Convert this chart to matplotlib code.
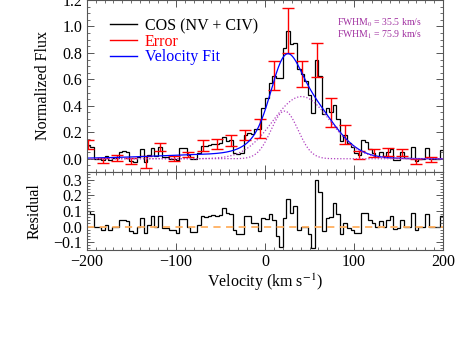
import matplotlib
matplotlib.use("Agg")
import matplotlib.pyplot as plt
from matplotlib.ticker import MultipleLocator
from matplotlib.lines import Line2D
import numpy as np

plt.rcParams["font.family"] = ["Liberation Serif", "DejaVu Serif"]
plt.rcParams["mathtext.fontset"] = "stix"

# velocity bins (4 km/s) and residuals
bin_width = 4.0
edges = np.arange(-200, 200 + bin_width, bin_width)
centers = 0.5 * (edges[:-1] + edges[1:])
resid = [
    0.10, 0.08, -0.005, -0.005, -0.02, 0.01, -0.02, -0.005, -0.005, 0.04,
    0.045, 0.035, -0.03, -0.04, 0.0, 0.055, -0.04, 0.01, 0.065, 0.0,
    0.065, -0.01, -0.01, -0.025, -0.025, -0.04, 0.05, 0.05, 0.0, -0.035,
    -0.035, 0.01, 0.065, 0.06, 0.065, 0.075, 0.07, 0.075, 0.12, 0.085,
    0.08, -0.02, -0.045, -0.05, 0.07, 0.065, 0.02, 0.02, -0.03, 0.055,
    0.05, 0.08, 0.04, -0.06, -0.13, 0.055, 0.175, 0.09, 0.13, -0.02,
    0.0, 0.0, -0.05, -0.14, 0.30, 0.22, -0.03, 0.055, 0.06, 0.15,
    0.08, -0.05, 0.025, -0.01, -0.02, -0.04, -0.04, 0.09, 0.085, 0.04,
    0.02, 0.0, 0.035, 0.0, 0.045, 0.065, -0.015, -0.01, 0.045, 0.0,
    0.0, 0.09, -0.02, -0.005, 0.0, 0.08, -0.005, -0.005, 0.0, 0.065,
]

# error bars every 4th bin
err_idx = list(range(0, 100, 4))
err_size = [
    0.035, 0.02, 0.02, 0.02, 0.045, 0.03, 0.02, 0.02, 0.04, 0.035,
    0.04, 0.04, 0.075, 0.11, 0.17, 0.10, 0.13, 0.11, 0.07, 0.03,
    0.03, 0.03, 0.025, 0.02, 0.02,
]

# gaussian components of the velocity fit
comp_amp = [0.36, 0.47]
comp_cen = [22.0, 41.0]
comp_fwhm = [35.5, 75.9]
cont_amp, cont_cen, cont_sig = 0.035, -40.0, 80.0


def gauss(v, a, c, fwhm):
    s = fwhm / (2 * np.sqrt(2 * np.log(2)))
    return a * np.exp(-0.5 * ((v - c) / s) ** 2)


vfine = np.linspace(-200, 200, 801)
comps = [gauss(vfine, a, c, w) for a, c, w in zip(comp_amp, comp_cen, comp_fwhm)]
cont = cont_amp * np.exp(-0.5 * ((vfine - cont_cen) / cont_sig) ** 2)
fit_fine = comps[0] + comps[1] + cont

fit_bins = np.interp(centers, vfine, fit_fine)
flux = fit_bins + np.array(resid)

fig = plt.figure(figsize=(4.7, 3.46), dpi=100)
ax1 = fig.add_axes([0.1845, 0.503, 0.7585, 0.497])
ax2 = fig.add_axes([0.1845, 0.2775, 0.7585, 0.2255])

# top panel
ax1.stairs(flux, edges, baseline=None, color="k", lw=0.9)
ax1.errorbar(centers[err_idx], flux[err_idx], yerr=err_size, fmt="none",
             ecolor="red", elinewidth=1.0, capsize=4.0, capthick=1.0)
ax1.plot(vfine, fit_fine, color="blue", lw=0.9)
for c in comps:
    ax1.plot(vfine, c, color="#b040c0", lw=0.9, ls=(0, (1, 1.5)))

handles = [Line2D([], [], color="k", lw=1.0),
           Line2D([], [], color="red", lw=1.0),
           Line2D([], [], color="blue", lw=1.0)]
labels = ["COS (NV + CIV)", "Error", "Velocity Fit"]
leg = ax1.legend(handles, labels, loc="upper left", bbox_to_anchor=(0.065, 0.895),
                 frameon=False, fontsize=11.5, handlelength=1.7,
                 handletextpad=0.5, labelspacing=-0.02, borderaxespad=0,
                 borderpad=0)
for txt, col in zip(leg.get_texts(), ["k", "red", "blue"]):
    txt.set_color(col)

ax1.text(0.703, 0.866, "FWHM$_0$ = %.1f km/s" % comp_fwhm[0], transform=ax1.transAxes,
         color="#a030a0", fontsize=7, va="center")
ax1.text(0.703, 0.797, "FWHM$_1$ = %.1f km/s" % comp_fwhm[1], transform=ax1.transAxes,
         color="#a030a0", fontsize=7, va="center")

ax1.set_xlim(-200, 200)
ax1.set_ylim(-0.1, 1.2)
ax1.set_ylabel("Normalized Flux", fontsize=11.5)
ax1.yaxis.set_label_coords(-0.10, 0.5)
ax1.yaxis.set_major_locator(MultipleLocator(0.2))
ax1.yaxis.set_minor_locator(MultipleLocator(0.05))
ax1.xaxis.set_major_locator(MultipleLocator(100))
ax1.xaxis.set_minor_locator(MultipleLocator(10))
ax1.tick_params(labelbottom=False)

# residual panel
ax2.stairs(resid, edges, baseline=None, color="k", lw=0.9)
ax2.axhline(0, color="#ffb060", lw=1.3, ls=(0, (4, 3)))
ax2.set_xlim(-200, 200)
ax2.set_ylim(-0.15, 0.35)
ax2.yaxis.set_major_locator(MultipleLocator(0.1))
ax2.yaxis.set_minor_locator(MultipleLocator(0.02))
ax2.xaxis.set_major_locator(MultipleLocator(100))
ax2.xaxis.set_minor_locator(MultipleLocator(10))
ax2.set_ylabel("Residual", fontsize=11.5)
ax2.yaxis.set_label_coords(-0.125, 0.5)
ax2.set_xlabel("Velocity (km s$^{-1}$)", fontsize=11.5, labelpad=1)

for ax in (ax1, ax2):
    ax.tick_params(which="both", direction="in", top=True, right=True,
                   labelsize=11.5, pad=3, color="#555555")
    ax.tick_params(which="major", length=5, width=0.7)
    ax.tick_params(which="minor", length=2.5, width=0.6)
    for sp in ax.spines.values():
        sp.set_linewidth(0.8)
        sp.set_color("#555555")

fig.savefig("out.png", dpi=100)
